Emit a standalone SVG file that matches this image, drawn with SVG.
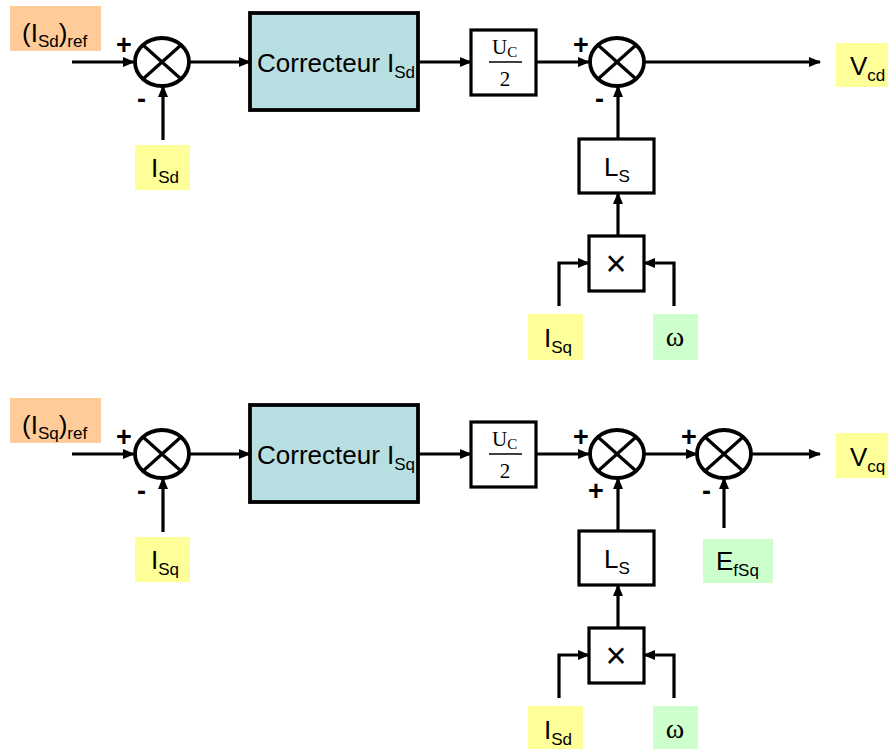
<svg xmlns="http://www.w3.org/2000/svg" width="888" height="749" viewBox="0 0 888 749">
<defs>
<marker id="ah" markerWidth="12" markerHeight="10" refX="11" refY="5" orient="auto" markerUnits="userSpaceOnUse">
<path d="M0,0 L12,5 L0,10 Z" fill="#000"/>
</marker>
<style>
.ln{stroke:#000;stroke-width:3.2;fill:none}
.sum{fill:#fff;stroke:#000;stroke-width:3.8}
.x{stroke:#000;stroke-width:3.2}
.blk{fill:#fff;stroke:#000;stroke-width:3.2}
.cor{fill:#B7DFE1;stroke:#000;stroke-width:3.8}
.t{font-family:"Liberation Sans",Arial,sans-serif;font-size:26px;fill:#000}
.s{font-size:17px}
.sg{font-family:"Liberation Sans",Arial,sans-serif;font-size:27px;font-weight:bold;fill:#000}
.tm{font-family:"Liberation Serif","Times New Roman",serif;fill:#000}
.yel{fill:#FFFF99}
.org{fill:#FFCC99}
.grn{fill:#CCFFCC}
</style>
</defs>
<rect width="888" height="749" fill="#fff"/>

<g id="connectors">
<line class="ln" x1="72" y1="62" x2="134" y2="62" marker-end="url(#ah)"/>
<line class="ln" x1="163" y1="140" x2="163" y2="86" marker-end="url(#ah)"/>
<line class="ln" x1="189" y1="62" x2="250" y2="62" marker-end="url(#ah)"/>
<line class="ln" x1="418" y1="62" x2="471" y2="62" marker-end="url(#ah)"/>
<line class="ln" x1="536" y1="62" x2="589" y2="62" marker-end="url(#ah)"/>
<line class="ln" x1="644" y1="62" x2="820" y2="62" marker-end="url(#ah)"/>
<line class="ln" x1="618" y1="139" x2="618" y2="86" marker-end="url(#ah)"/>
<line class="ln" x1="618" y1="236" x2="618" y2="193" marker-end="url(#ah)"/>
<polyline class="ln" points="559,306 559,263 589,263" marker-end="url(#ah)"/>
<polyline class="ln" points="674,306 674,263 644,263" marker-end="url(#ah)"/>
<line class="ln" x1="72" y1="454" x2="134" y2="454" marker-end="url(#ah)"/>
<line class="ln" x1="163" y1="532" x2="163" y2="478" marker-end="url(#ah)"/>
<line class="ln" x1="189" y1="454" x2="250" y2="454" marker-end="url(#ah)"/>
<line class="ln" x1="418" y1="454" x2="471" y2="454" marker-end="url(#ah)"/>
<line class="ln" x1="536" y1="454" x2="589" y2="454" marker-end="url(#ah)"/>
<line class="ln" x1="644" y1="454" x2="697" y2="454" marker-end="url(#ah)"/>
<line class="ln" x1="752" y1="454" x2="820" y2="454" marker-end="url(#ah)"/>
<line class="ln" x1="724" y1="528" x2="724" y2="478" marker-end="url(#ah)"/>
<line class="ln" x1="618" y1="531" x2="618" y2="478" marker-end="url(#ah)"/>
<line class="ln" x1="618" y1="628" x2="618" y2="585" marker-end="url(#ah)"/>
<polyline class="ln" points="559,698 559,655 589,655" marker-end="url(#ah)"/>
<polyline class="ln" points="674,698 674,655 644,655" marker-end="url(#ah)"/>
</g>

<g id="ref_d">
<rect class="org" x="10" y="6" width="91" height="45"/>
<text class="t" x="22" y="42">(I<tspan class="s" dy="5">Sd</tspan><tspan dy="-5">)</tspan><tspan class="s" dy="5">ref</tspan></text>
</g>
<g id="sum_d1">
<ellipse class="sum" cx="162" cy="62" rx="27" ry="24"/>
<line class="x" x1="143" y1="45" x2="181" y2="79"/>
<line class="x" x1="181" y1="45" x2="143" y2="79"/>
<text class="sg" x="116" y="54">+</text>
<text class="sg" x="137" y="108">-</text>
</g>
<g id="isd_fb">
<rect class="yel" x="135" y="145" width="55" height="45"/>
<text class="t" x="151" y="177">I<tspan class="s" dy="6">Sd</tspan></text>
</g>
<g id="corr_d">
<rect class="cor" x="250" y="13" width="168" height="97"/>
<text class="t" x="257" y="72">Correcteur I<tspan class="s" dy="6">Sd</tspan></text>
</g>
<g id="gain_d">
<rect class="blk" x="471" y="30" width="65" height="65"/>
<text class="tm" x="492" y="54" font-size="21">U<tspan font-size="15" dy="3">C</tspan></text>
<line stroke="#000" stroke-width="1.5" x1="489" y1="62" x2="522" y2="62"/>
<text class="tm" x="505" y="86" font-size="21" text-anchor="middle">2</text>
</g>
<g id="sum_d2">
<ellipse class="sum" cx="617" cy="62" rx="27" ry="24"/>
<line class="x" x1="598" y1="45" x2="636" y2="79"/>
<line class="x" x1="636" y1="45" x2="598" y2="79"/>
<text class="sg" x="573" y="54">+</text>
<text class="sg" x="595" y="108">-</text>
</g>
<g id="vcd">
<rect class="yel" x="836" y="43" width="52" height="44"/>
<text class="t" x="850" y="75">V<tspan class="s" dy="6">cd</tspan></text>
</g>
<g id="ls_d">
<rect class="blk" x="579" y="139" width="75" height="54"/>
<text class="t" x="604" y="176">L<tspan class="s" dy="6">S</tspan></text>
</g>
<g id="mul_d">
<rect class="blk" x="589" y="236" width="55" height="55"/>
<text x="616" y="276" font-family="'Liberation Sans',Arial,sans-serif" font-size="36" text-anchor="middle">×</text>
</g>
<g id="isq_in">
<rect class="yel" x="528" y="314" width="55" height="46"/>
<text class="t" x="544" y="347">I<tspan class="s" dy="6">Sq</tspan></text>
</g>
<g id="w_d">
<rect class="grn" x="653" y="314" width="45" height="46"/>
<text class="tm" x="675" y="346" font-size="28" text-anchor="middle">ω</text>
</g>

<g id="ref_q">
<rect class="org" x="10" y="398" width="91" height="45"/>
<text class="t" x="22" y="434">(I<tspan class="s" dy="5">Sq</tspan><tspan dy="-5">)</tspan><tspan class="s" dy="5">ref</tspan></text>
</g>
<g id="sum_q1">
<ellipse class="sum" cx="162" cy="454" rx="27" ry="24"/>
<line class="x" x1="143" y1="437" x2="181" y2="471"/>
<line class="x" x1="181" y1="437" x2="143" y2="471"/>
<text class="sg" x="116" y="446">+</text>
<text class="sg" x="137" y="500">-</text>
</g>
<g id="isq_fb">
<rect class="yel" x="135" y="537" width="55" height="45"/>
<text class="t" x="151" y="569">I<tspan class="s" dy="6">Sq</tspan></text>
</g>
<g id="corr_q">
<rect class="cor" x="250" y="405" width="168" height="97"/>
<text class="t" x="257" y="464">Correcteur I<tspan class="s" dy="6">Sq</tspan></text>
</g>
<g id="gain_q">
<rect class="blk" x="471" y="422" width="65" height="65"/>
<text class="tm" x="492" y="446" font-size="21">U<tspan font-size="15" dy="3">C</tspan></text>
<line stroke="#000" stroke-width="1.5" x1="489" y1="454" x2="522" y2="454"/>
<text class="tm" x="505" y="478" font-size="21" text-anchor="middle">2</text>
</g>
<g id="sum_q2">
<ellipse class="sum" cx="617" cy="454" rx="27" ry="24"/>
<line class="x" x1="598" y1="437" x2="636" y2="471"/>
<line class="x" x1="636" y1="437" x2="598" y2="471"/>
<text class="sg" x="573" y="446">+</text>
<text class="sg" x="588" y="500">+</text>
</g>
<g id="sum_q3">
<ellipse class="sum" cx="724" cy="454" rx="27" ry="24"/>
<line class="x" x1="705" y1="437" x2="743" y2="471"/>
<line class="x" x1="743" y1="437" x2="705" y2="471"/>
<text class="sg" x="681" y="446">+</text>
<text class="sg" x="702" y="500">-</text>
</g>
<g id="vcq">
<rect class="yel" x="836" y="433" width="52" height="45"/>
<text class="t" x="850" y="466">V<tspan class="s" dy="6">cq</tspan></text>
</g>
<g id="efsq">
<rect class="grn" x="703" y="539" width="70" height="44"/>
<text class="t" x="716" y="570">E<tspan class="s" dy="6">fSq</tspan></text>
</g>
<g id="ls_q">
<rect class="blk" x="579" y="531" width="75" height="54"/>
<text class="t" x="604" y="568">L<tspan class="s" dy="6">S</tspan></text>
</g>
<g id="mul_q">
<rect class="blk" x="589" y="628" width="55" height="55"/>
<text x="616" y="668" font-family="'Liberation Sans',Arial,sans-serif" font-size="36" text-anchor="middle">×</text>
</g>
<g id="isd_in">
<rect class="yel" x="528" y="706" width="55" height="43"/>
<text class="t" x="544" y="739">I<tspan class="s" dy="6">Sd</tspan></text>
</g>
<g id="w_q">
<rect class="grn" x="653" y="706" width="45" height="43"/>
<text class="tm" x="675" y="738" font-size="28" text-anchor="middle">ω</text>
</g>
</svg>
